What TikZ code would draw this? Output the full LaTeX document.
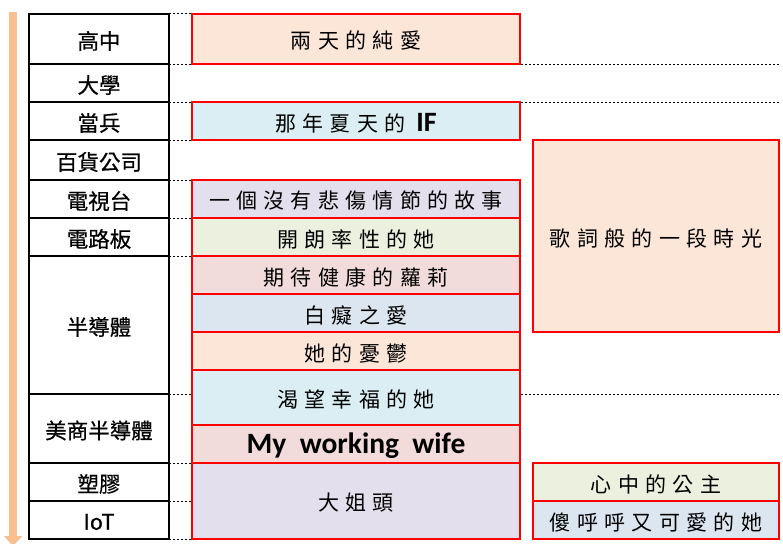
\documentclass[tikz,border=0pt]{standalone}
\usepackage{fontspec}
\usetikzlibrary{arrows.meta}
\newfontfamily\cjkleft{Noto Sans CJK TC}[FakeBold=0.6]
\newfontfamily\cjkhand{Noto Sans CJK TC}[LetterSpace=30]
\newfontfamily\latbold{Carlito}[BoldFont={Carlito Bold}]
\definecolor{arroworange}{HTML}{F8C08E}
\definecolor{cpeach}{HTML}{FCE6D8}
\definecolor{cblue}{HTML}{DAEEF3}
\definecolor{clav}{HTML}{E4DFEC}
\definecolor{cgreen}{HTML}{EBF1DE}
\definecolor{cpink}{HTML}{F2DCDB}
\definecolor{cgrey}{HTML}{DCE6F1}
\newcommand\cellbox[7]{\node[#6, minimum width={#4-#2}, minimum height={#5-#3}] (#1) at ({(#2+#4)/2},{(#3+#5)/2}) {\raisebox{-2pt}[\height][\depth]{#7}};}
\begin{document}
\begin{tikzpicture}[x=1pt,y=-1pt,
  leftcell/.style={draw=black, line width=2.4pt, fill=white, inner sep=0pt, outer sep=0pt,
    font=\cjkleft\fontsize{21.5}{21.5}\selectfont},
  redcell/.style={draw=red, line width=2.4pt, inner sep=0pt, outer sep=0pt,
    font=\cjkhand\fontsize{21}{21}\selectfont},
  dotline/.style={line width=1pt, dash pattern=on 2pt off 2pt, black}]
\useasboundingbox (0,0) rectangle (783,543);
% timeline arrow
\coordinate (atop) at (13,12);
\coordinate (abot) at (13,546);
\draw[line width=8pt, arroworange, -{Triangle[length=10pt,width=18pt]}] (atop) -- (abot);
% right ends of long dotted lines
\coordinate (e64) at (780,64);
\coordinate (e102) at (780,102);
\coordinate (e394) at (780,394);
% left table
\cellbox{t1}{29}{14}{169}{64}{leftcell}{高中}
\cellbox{t2}{29}{64}{169}{102}{leftcell}{大學}
\cellbox{t3}{29}{102}{169}{140}{leftcell}{當兵}
\cellbox{t4}{29}{140}{169}{180}{leftcell}{百貨公司}
\cellbox{t5}{29}{180}{169}{218}{leftcell}{電視台}
\cellbox{t6}{29}{218}{169}{256}{leftcell}{電路板}
\cellbox{t7}{29}{256}{169}{394}{leftcell}{半導體}
\cellbox{t8}{29}{394}{169}{463}{leftcell}{美商半導體}
\cellbox{t9}{29}{463}{169}{501}{leftcell}{塑膠}
\cellbox{t10}{29}{501}{169}{539}{leftcell}{IoT}
% dotted guide lines
\draw[dotline] (t1.north east) -- ++(23,0);
\draw[dotline] (t1.south east) -- (e64);
\draw[dotline] (t2.south east) -- (e102);
\draw[dotline] (t3.south east) -- ++(23,0);
\draw[dotline] (t4.south east) -- ++(23,0);
\draw[dotline] (t5.south east) -- ++(23,0);
\draw[dotline] (t6.south east) -- ++(23,0);
\draw[dotline] (t7.south east) -- (e394);
\draw[dotline] (t8.south east) -- ++(23,0);
\draw[dotline] (t9.south east) -- ++(23,0);
\draw[dotline] (t10.south east) -- ++(23,0);
% middle column
\cellbox{m1}{192}{14}{520}{64}{redcell, fill=cpeach}{兩天的純愛}
\cellbox{m2}{192}{102}{520}{140}{redcell, fill=cblue}{那年夏天的 {\latbold\bfseries\fontsize{28}{28}\selectfont IF}}
\cellbox{m3}{192}{180}{520}{218}{redcell, fill=clav}{一個沒有悲傷情節的故事}
\cellbox{m4}{192}{218}{520}{256}{redcell, fill=cgreen}{開朗率性的她}
\cellbox{m5}{192}{256}{520}{294}{redcell, fill=cpink}{期待健康的蘿莉}
\cellbox{m6}{192}{294}{520}{332}{redcell, fill=cgrey}{白癡之愛}
\cellbox{m7}{192}{332}{520}{370}{redcell, fill=cpeach}{她的憂鬱}
\cellbox{m8}{192}{370}{520}{425}{redcell, fill=cblue}{渴望幸福的她}
\cellbox{m9}{192}{425}{520}{463}{redcell, fill=cpink}{\latbold\bfseries\fontsize{29.5}{29.5}\selectfont My\ \ working\ \ wife}
\cellbox{m10}{192}{463}{520}{539}{redcell, fill=clav}{大姐頭}
% right column
\cellbox{r1}{533}{140}{779}{332}{redcell, fill=cpeach}{歌詞般的一段時光}
\cellbox{r2}{533}{463}{779}{501}{redcell, fill=cgreen}{心中的公主}
\cellbox{r3}{533}{501}{779}{539}{redcell, fill=cgrey}{傻呼呼又可愛的她}
\end{tikzpicture}
\end{document}
